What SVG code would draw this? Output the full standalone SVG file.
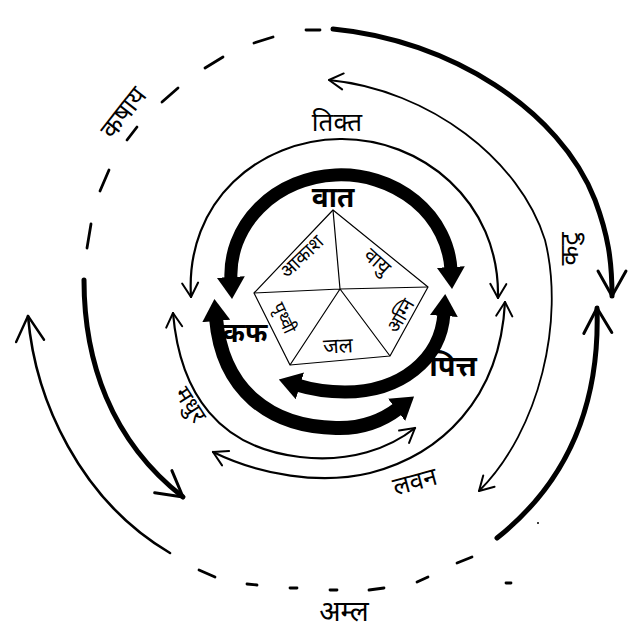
<svg xmlns="http://www.w3.org/2000/svg" width="640" height="642" viewBox="0 0 640 642">
<style>
  text{font-family:"Noto Sans Devanagari","Lohit Devanagari","Noto Sans","FreeSans",sans-serif;fill:#000;text-anchor:middle}
  .b{font-weight:700}
  .thick{fill:none;stroke:#000;stroke-width:13}
  .thin{fill:none;stroke:#000;stroke-width:2.2;stroke-linecap:round}
  .outer{fill:none;stroke:#000;stroke-width:5;stroke-linecap:round}
  .outerthin{fill:none;stroke:#000;stroke-width:2.6;stroke-linecap:round}
  .dash{fill:none;stroke:#000;stroke-width:2.8;stroke-linecap:round}
  .pent{fill:none;stroke:#000;stroke-width:1.2;stroke-linejoin:round}
</style>
<defs>
  <marker id="tri" viewBox="0 0 22 28" refX="3" refY="14" markerWidth="22" markerHeight="28" markerUnits="userSpaceOnUse" orient="auto-start-reverse">
    <path d="M0,0 L22,14 L0,28 Z" fill="#000"/>
  </marker>
  <marker id="vee" viewBox="-2 -2 18 20" refX="14" refY="8" markerWidth="18" markerHeight="20" markerUnits="userSpaceOnUse" orient="auto-start-reverse" overflow="visible">
    <path d="M0,0 L14,8 L0,16" fill="none" stroke="#000" stroke-width="2" stroke-linecap="round" stroke-linejoin="round"/>
  </marker>
  <marker id="bigvee" viewBox="-2 -2 30 32" refX="25" refY="14" markerWidth="30" markerHeight="32" markerUnits="userSpaceOnUse" orient="auto-start-reverse" overflow="visible">
    <path d="M0,0 L25,14 L0,28" fill="none" stroke="#000" stroke-width="3" stroke-linecap="round" stroke-linejoin="round"/>
  </marker>
  <marker id="midvee" viewBox="-2 -2 30 32" refX="25" refY="14" markerWidth="30" markerHeight="32" markerUnits="userSpaceOnUse" orient="auto-start-reverse" overflow="visible">
    <path d="M0,0 L25,14 L0,28" fill="none" stroke="#000" stroke-width="2.4" stroke-linecap="round" stroke-linejoin="round"/>
  </marker>
</defs>
<rect width="640" height="642" fill="#fff"/>

<g id="connectors">
  <!-- inner thick dosha arrows -->
  <path class="thick" d="M231,280 A110,100 0 0 1 451,270" marker-start="url(#tri)" marker-end="url(#tri)"/>
  <path class="thick" style="stroke-width:14" d="M216,318 C222,390 270,427 336,428 C366,429 386,418 399,408" marker-start="url(#tri)" marker-end="url(#tri)"/>
  <path class="thick" d="M444,313 C441,360 400,392 345,392 C325,392 310,389 297,385" marker-start="url(#tri)" marker-end="url(#tri)"/>

  <!-- middle thin arrows -->
  <path class="thin" d="M191,297 C185,200 260,140 340,139 C420,138 500,200 498,298" marker-start="url(#vee)" marker-end="url(#vee)"/>
  <path class="thin" d="M173,313 C180,395 220,448 300,457 C350,463 390,448 415,428" marker-start="url(#vee)" marker-end="url(#vee)"/>
  <path class="thin" d="M213,452 C260,475 320,485 370,473 C440,455 500,400 505,302" marker-start="url(#vee)" marker-end="url(#vee)"/>
  <path class="thin" style="stroke-width:1.8" d="M329,80 C430,90 520,160 545,240 C565,320 540,430 479,491" marker-start="url(#vee)" marker-end="url(#vee)"/>

  <!-- outer ring -->
  <path class="outer" d="M333,29 C450,40 560,110 595,200 C608,235 612,260 612,296" marker-end="url(#bigvee)"/>
  <path class="outer" d="M597,308 C600,400 570,480 497,538" marker-start="url(#bigvee)"/>
  <path class="outerthin" d="M28,316 C35,400 80,500 170,553" marker-start="url(#midvee)"/>
  <path class="outer" d="M84,280 C84,360 110,440 183,497" marker-end="url(#bigvee)"/>

  <!-- dashed portions of outer ring -->
  <g class="dash">
    <line x1="306" y1="30" x2="320" y2="30"/>
    <line x1="254" y1="43" x2="273" y2="37"/>
    <line x1="205" y1="68" x2="223" y2="57"/>
    <line x1="162" y1="102" x2="178" y2="88"/>
    <line x1="127" y1="140" x2="137" y2="127"/>
    <line x1="100" y1="191" x2="109" y2="170"/>
    <line x1="87" y1="248" x2="91" y2="224"/>
    <line x1="199" y1="570" x2="215" y2="577"/>
    <line x1="247" y1="584" x2="257" y2="585"/>
    <line x1="290" y1="588" x2="297" y2="588"/>
    <line x1="330" y1="590" x2="337" y2="590"/>
    <line x1="369" y1="590" x2="384" y2="588"/>
    <line x1="417" y1="582" x2="428" y2="577"/>
    <line x1="457" y1="563" x2="472" y2="557"/>
    <line x1="506" y1="583" x2="511" y2="583"/>
  </g>
  <circle cx="538" cy="523" r="1" fill="#000"/>
</g>

<g id="pentagon">
  <path class="pent" d="M333,210 L428,287 L390,356 L290,365 L254,293 Z"/>
  <path class="pent" d="M340,289 L333,210 M340,289 L428,287 M340,289 L390,356 M340,289 L290,365 M340,289 L254,293"/>
</g>

<g id="akash"><text transform="translate(302,257) rotate(-44)" y="6" font-size="19">आकाश</text></g>
<g id="vayu"><text transform="translate(377,262) rotate(42)" y="6" font-size="20">वायु</text></g>
<g id="agni"><text transform="translate(401,316) rotate(-60)" y="6" font-size="19">अग्नि</text></g>
<g id="prithvi"><text transform="translate(284,318) rotate(65)" y="6" font-size="18">पृथ्वी</text></g>
<g id="jal"><text transform="translate(338,346) rotate(-3)" y="7" font-size="21">जल</text></g>

<g id="vata"><text class="b" x="333" y="207" font-size="28">वात</text></g>
<g id="kapha"><text class="b" x="245" y="342" font-size="27">कफ</text></g>
<g id="pitta"><text class="b" x="453" y="376" font-size="29">पित्त</text></g>

<g id="tikta"><text x="337" y="131" font-size="26">तिक्त</text></g>
<g id="katu"><text transform="translate(570,249) rotate(-90)" y="8" font-size="26">कटु</text></g>
<g id="lavan"><text transform="translate(415,482) rotate(-15)" y="8" font-size="25">लवन</text></g>
<g id="amla"><text x="344" y="621" font-size="28">अम्ल</text></g>
<g id="madhur"><text transform="translate(190,405) rotate(57)" y="7" font-size="23">मधुर</text></g>
<g id="kashay"><text transform="translate(124,113) rotate(-52)" y="8" font-size="26">कषाय</text></g>
</svg>
